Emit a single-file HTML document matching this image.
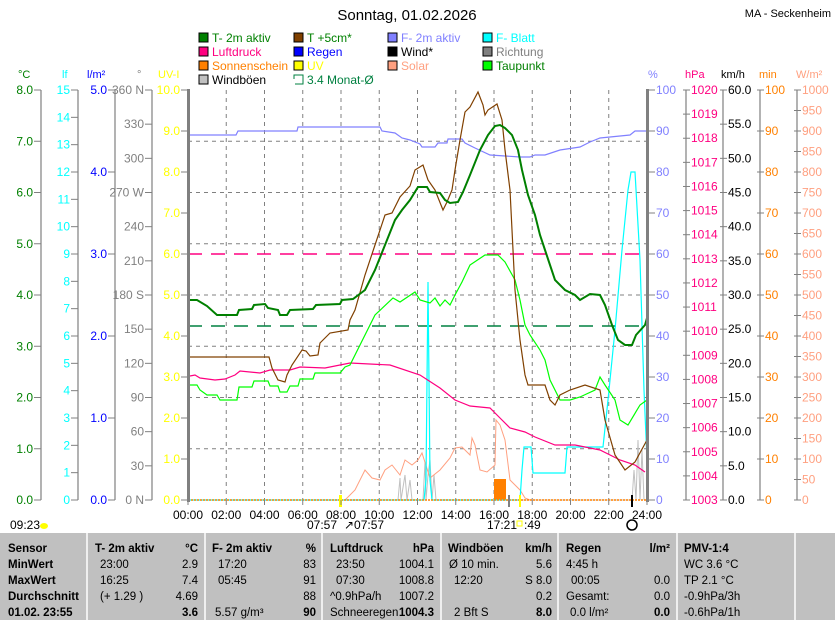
<!DOCTYPE html>
<html><head><meta charset="utf-8"><style>
body{margin:0;background:#fff;width:835px;height:620px;overflow:hidden;font-family:"Liberation Sans",sans-serif}
svg{position:absolute;left:0;top:0}
</style></head><body>
<svg width="835" height="620" xmlns="http://www.w3.org/2000/svg" font-family="Liberation Sans, sans-serif" font-size="12">
<text x="407" y="20" font-size="15" text-anchor="middle">Sonntag, 01.02.2026</text>
<text x="831" y="17" font-size="11" text-anchor="end">MA - Seckenheim</text>
<g font-size="12">
<rect x="199" y="33" width="9" height="9" fill="#008000" stroke="#000"/><text x="212" y="42" fill="#008000">T- 2m aktiv</text>
<rect x="294" y="33" width="9" height="9" fill="#804000" stroke="#000"/><text x="307" y="42" fill="#008000">T +5cm*</text>
<rect x="388" y="33" width="9" height="9" fill="#8080ff" stroke="#000"/><text x="401" y="42" fill="#8080ff">F- 2m aktiv</text>
<rect x="483" y="33" width="9" height="9" fill="#00ffff" stroke="#000"/><text x="496" y="42" fill="#00ffff">F- Blatt</text>
<rect x="199" y="47" width="9" height="9" fill="#ff0080" stroke="#000"/><text x="212" y="56" fill="#ff0080">Luftdruck</text>
<rect x="294" y="47" width="9" height="9" fill="#0000ff" stroke="#000"/><text x="307" y="56" fill="#0000ff">Regen</text>
<rect x="388" y="47" width="9" height="9" fill="#000" stroke="#000"/><text x="401" y="56" fill="#000">Wind*</text>
<rect x="483" y="47" width="9" height="9" fill="#808080" stroke="#000"/><text x="496" y="56" fill="#808080">Richtung</text>
<rect x="199" y="61" width="9" height="9" fill="#ff8000" stroke="#000"/><text x="212" y="70" fill="#ff8000">Sonnenschein</text>
<rect x="294" y="61" width="9" height="9" fill="#ffff00" stroke="#000"/><text x="307" y="70" fill="#ffff00">UV</text>
<rect x="388" y="61" width="9" height="9" fill="#ffa080" stroke="#000"/><text x="401" y="70" fill="#ffa080">Solar</text>
<rect x="483" y="61" width="9" height="9" fill="#00ff00" stroke="#000"/><text x="496" y="70" fill="#008000">Taupunkt</text>
<rect x="199" y="75" width="9" height="9" fill="#c0c0c0" stroke="#000"/><text x="212" y="84" fill="#000">Windböen</text>
<path d="M294 75h9v9h-9z" fill="none" stroke="#008040"/><rect x="293" y="79" width="2" height="6" fill="#fff"/><text x="307" y="84" fill="#008040">3.4 Monat-Ø</text>
</g>
<g font-size="11">
<text x="18" y="78" fill="#008000">°C</text><text x="62" y="78" fill="#00ffff">lf</text><text x="87" y="78" fill="#0000ff">l/m²</text><text x="137" y="78" fill="#808080">°</text><text x="158" y="78" fill="#ffff00">UV-I</text>
<text x="648" y="78" fill="#8080ff">%</text><text x="685" y="78" fill="#ff0080">hPa</text><text x="721" y="78" fill="#000">km/h</text><text x="759" y="78" fill="#ff8000">min</text><text x="796" y="78" fill="#ffa080">W/m²</text>
</g>
<g stroke="#808080" stroke-width="1.2">
<line x1="41" y1="90" x2="41" y2="500"/><line x1="78" y1="90" x2="78" y2="500"/><line x1="115" y1="90" x2="115" y2="500"/><line x1="152" y1="90" x2="152" y2="500"/>
<line x1="686" y1="90" x2="686" y2="500"/><line x1="723" y1="90" x2="723" y2="500"/><line x1="760" y1="90" x2="760" y2="500"/><line x1="797" y1="90" x2="797" y2="500"/>
</g>
<g font-size="11" id="ax"></g>
<g stroke="#808080" stroke-dasharray="4,4" stroke-width="1">
<path d="M188 141.25H647M188 192.5H647M188 243.75H647M188 295H647M188 346.25H647M188 397.5H647M188 448.75H647"/>
<path d="M226.25 90V500M264.5 90V500M302.75 90V500M341 90V500M379.25 90V500M417.5 90V500M455.75 90V500M494 90V500M532.25 90V500M570.5 90V500M608.75 90V500"/>
</g>
<line x1="188" y1="254" x2="647" y2="254" stroke="#ff0080" stroke-width="1.5" stroke-dasharray="14,9"/>
<line x1="188" y1="326" x2="647" y2="326" stroke="#008040" stroke-width="1.5" stroke-dasharray="14,9"/>
<polyline fill="none" stroke="#c0c0c0" points="398,500 400,478 401,500 405,475 407,500 410,480 412,500 423,500 425,462 426,500 428,475 430,460 432,500 434,475 436,500 632,500 634,470 636,500 638,440 640,500 642,450 644,500"/>
<polyline fill="none" stroke="#ffa080" points="345,500 355,490 365,470 372,478 380,480 385,470 392,465 400,475 405,460 412,465 418,460 422,453 430,478 440,470 450,458 455,448 462,447 470,455 472,438 475,445 480,470 487,472 495,465 496,420 500,425 505,440 510,480 520,490 525,498 530,500"/>
<rect x="494" y="479" width="12" height="21" fill="#ff8000"/>
<polyline fill="none" stroke="#00ffff" stroke-width="1.2" points="188,500 424,500 426,480 428,282 430,480 432,500 520,500 522,470 524,447 531,447 533,473 565,473 567,447 603,447 608,400 615,330 622,250 628,190 631,172 635,172 640,260 644,390 647,460"/>
<polyline fill="none" stroke="#8080ff" stroke-width="1.2" points="190,135 236,135 238,131 297,131 298,127 380,127 382,131 395,133 402,138 410,140 420,144 422,147 435,147 438,143 447,143 448,139 462,139 465,143 475,148 490,155 520,157 530,157 535,155 545,155 560,150 580,147 590,142 600,138 630,135 635,131 647,131"/>
<polyline fill="none" stroke="#ff0080" stroke-width="1.2" points="190,376 195,375 200,378 215,380 225,379 235,375 240,371 260,373 270,370 290,370 300,367 325,368 350,363 390,365 420,375 440,388 455,400 470,406 490,408 500,418 510,428 525,432 535,437 555,445 575,445 600,450 620,460 635,465 645,472"/>
<polyline fill="none" stroke="#00ff00" stroke-width="1.2" points="190,385 197,385 200,390 207,395 217,395 220,400 237,400 239,387 252,387 254,381 268,381 270,386 278,386 280,392 287,392 290,386 298,386 300,379 313,379 315,373 340,373 345,367 350,365 360,345 375,315 393,298 400,302 415,292 420,300 430,303 435,298 440,306 445,300 450,305 455,295 462,282 470,265 485,255 498,255 505,262 515,280 520,300 525,325 530,335 540,350 545,360 550,380 560,400 570,400 580,397 595,390 600,377 605,385 615,400 620,420 628,425 640,405 647,400"/>
<polyline fill="none" stroke="#804000" stroke-width="1.2" points="190,357 269,357 272,368 278,380 285,382 287,375 292,365 302,350 306,351 310,356 318,355 320,343 330,333 348,330 350,320 355,310 365,275 375,245 385,215 392,213 400,197 410,186 415,170 423,165 428,180 435,190 443,210 447,202 452,190 455,170 460,140 465,112 470,107 478,92 483,105 485,115 488,110 497,104 502,120 505,150 510,190 512,230 515,290 520,340 525,375 528,385 535,385 545,385 550,400 555,405 560,395 570,390 585,385 600,390 605,420 615,455 625,470 635,462 647,440"/>
<polyline fill="none" stroke="#008000" stroke-width="2" points="190,300 197,300 207,306 217,315 237,315 239,310 252,309 254,305 265,304 268,308 278,310 280,315 287,315 290,310 313,309 316,305 340,304 342,300 353,299 365,290 375,270 385,245 395,220 402,210 410,200 418,187 427,187 430,192 440,193 445,200 450,203 458,202 463,192 470,175 480,150 488,135 495,126 500,125 505,128 512,135 518,150 522,170 528,195 535,215 540,235 545,250 550,265 555,280 565,290 575,295 580,300 590,294 600,295 605,305 612,325 618,340 625,345 632,345 636,335 645,325 647,318"/>
<line x1="188" y1="500" x2="647" y2="500" stroke="#ff8000" stroke-width="1.5" stroke-dasharray="2,1"/>
<line x1="188.5" y1="89" x2="188.5" y2="502" stroke="#808080" stroke-width="3"/>
<line x1="647.5" y1="89" x2="647.5" y2="502" stroke="#808080" stroke-width="3"/>
<rect x="339" y="495" width="3" height="12" fill="#ffff00"/><rect x="508" y="495" width="2" height="12" fill="#808080"/><rect x="519" y="495" width="2" height="12" fill="#ffff00"/><rect x="631" y="495" width="2" height="12" fill="#000"/>
<g font-size="12" text-anchor="middle" id="xl"></g>
<g font-size="12">
<text x="10" y="529">09:23</text><ellipse cx="44" cy="526" rx="4" ry="3" fill="#ffff00"/>
<text x="307" y="529">07:57</text><text x="344" y="529">↗07:57</text>
<text x="487" y="529">17:21</text><rect x="517" y="521" width="5" height="5" fill="none" stroke="#ffff00"/><text x="524" y="529">:49</text>
<circle cx="632" cy="525" r="5" fill="none" stroke="#000" stroke-width="1.5"/>
</g>
<rect x="0" y="533" width="835" height="87" fill="#c0c0c0"/>
<g stroke="#fff" stroke-width="1.5"><line x1="87" y1="533" x2="87" y2="620"/><line x1="205" y1="533" x2="205" y2="620"/><line x1="322" y1="533" x2="322" y2="620"/><line x1="441" y1="533" x2="441" y2="620"/><line x1="558" y1="533" x2="558" y2="620"/><line x1="677" y1="533" x2="677" y2="620"/><line x1="795" y1="533" x2="795" y2="620"/></g>
<g font-size="11.5">
<g font-weight="bold"><text x="8" y="552">Sensor</text><text x="8" y="568">MinWert</text><text x="8" y="584">MaxWert</text><text x="8" y="600">Durchschnitt</text><text x="8" y="616">01.02. 23:55</text>
<text x="95" y="552">T- 2m aktiv</text><text x="198" y="552" text-anchor="end">°C</text>
<text x="212" y="552">F- 2m aktiv</text><text x="316" y="552" text-anchor="end">%</text>
<text x="330" y="552">Luftdruck</text><text x="434" y="552" text-anchor="end">hPa</text>
<text x="448" y="552">Windböen</text><text x="552" y="552" text-anchor="end">km/h</text>
<text x="566" y="552">Regen</text><text x="670" y="552" text-anchor="end">l/m²</text>
<text x="684" y="552">PMV-1:4</text>
<text x="198" y="616" text-anchor="end">3.6</text><text x="316" y="616" text-anchor="end">90</text><text x="434" y="616" text-anchor="end">1004.3</text><text x="552" y="616" text-anchor="end">8.0</text><text x="670" y="616" text-anchor="end">0.0</text></g>
<text x="100" y="568">23:00</text><text x="198" y="568" text-anchor="end">2.9</text>
<text x="100" y="584">16:25</text><text x="198" y="584" text-anchor="end">7.4</text>
<text x="100" y="600">(+ 1.29 )</text><text x="198" y="600" text-anchor="end">4.69</text>
<text x="218" y="568">17:20</text><text x="316" y="568" text-anchor="end">83</text>
<text x="218" y="584">05:45</text><text x="316" y="584" text-anchor="end">91</text>
<text x="316" y="600" text-anchor="end">88</text>
<text x="215" y="616">5.57 g/m³</text>
<text x="336" y="568">23:50</text><text x="434" y="568" text-anchor="end">1004.1</text>
<text x="336" y="584">07:30</text><text x="434" y="584" text-anchor="end">1008.8</text>
<text x="330" y="600">^0.9hPa/h</text><text x="434" y="600" text-anchor="end">1007.2</text>
<text x="330" y="616">Schneeregen</text>
<text x="449" y="568">Ø 10 min.</text><text x="552" y="568" text-anchor="end">5.6</text>
<text x="454" y="584">12:20</text><text x="552" y="584" text-anchor="end">S 8.0</text>
<text x="552" y="600" text-anchor="end">0.2</text>
<text x="454" y="616">2 Bft S</text>
<text x="566" y="568">4:45 h</text>
<text x="571" y="584">00:05</text><text x="670" y="584" text-anchor="end">0.0</text>
<text x="566" y="600">Gesamt:</text><text x="670" y="600" text-anchor="end">0.0</text>
<text x="570" y="616">0.0 l/m²</text>
<text x="684" y="568">WC 3.6 °C</text><text x="684" y="584">TP 2.1 °C</text><text x="684" y="600">-0.9hPa/3h</text><text x="684" y="616">-0.6hPa/1h</text>
</g>
</svg>
<script>
var NS="http://www.w3.org/2000/svg",ax=document.getElementById("ax");
function T(x,y,s,c,a){var t=document.createElementNS(NS,"text");t.setAttribute("x",x);t.setAttribute("y",y+4);t.setAttribute("fill",c);t.setAttribute("text-anchor",a);t.setAttribute("font-size","12");t.textContent=s;ax.appendChild(t);}
function L(x1,x2,y){var l=document.createElementNS(NS,"line");l.setAttribute("x1",x1);l.setAttribute("x2",x2);l.setAttribute("y1",y);l.setAttribute("y2",y);l.setAttribute("stroke","#808080");ax.appendChild(l);}
function left(n,x,c,f){for(var i=0;i<=n;i++){var y=500-410*i/n;L(x,x+7,y);T(x-1,y,f(i),c,"end");}}
function right(n,x,c,f){for(var i=0;i<=n;i++){var y=500-410*i/n;L(x-7,x,y);T(x+1,y,f(i),c,"start");}}
left(8,34,"#008000",function(i){return i.toFixed(1)});
left(15,71,"#00ffff",function(i){return ""+i});
left(5,108,"#0000ff",function(i){return i.toFixed(1)});
var d={0:" N",3:"",6:" S",9:" W",12:" N"};
left(12,145,"#808080",function(i){return (i*30)+(i%3==0?d[i]:"")});
left(10,181,"#ffff00",function(i){return i.toFixed(1)});
right(10,655,"#8080ff",function(i){return ""+i*10});
right(17,690,"#ff0080",function(i){return ""+(1003+i)});
right(12,727,"#000",function(i){return (i*5).toFixed(1)});
right(10,764,"#ff8000",function(i){return ""+i*10});
right(20,801,"#ffa080",function(i){return ""+i*50});
var xl=document.getElementById("xl");
for(var h=0;h<=24;h+=2){var t=document.createElementNS(NS,"text");t.setAttribute("x",188+h*19.125);t.setAttribute("y",519);t.setAttribute("text-anchor","middle");t.textContent=(h<10?"0":"")+h+":00";xl.appendChild(t);var l=document.createElementNS(NS,"line");l.setAttribute("x1",188+h*19.125);l.setAttribute("x2",188+h*19.125);l.setAttribute("y1",500);l.setAttribute("y2",505);l.setAttribute("stroke","#808080");xl.appendChild(l);}
</script>
</body></html>
